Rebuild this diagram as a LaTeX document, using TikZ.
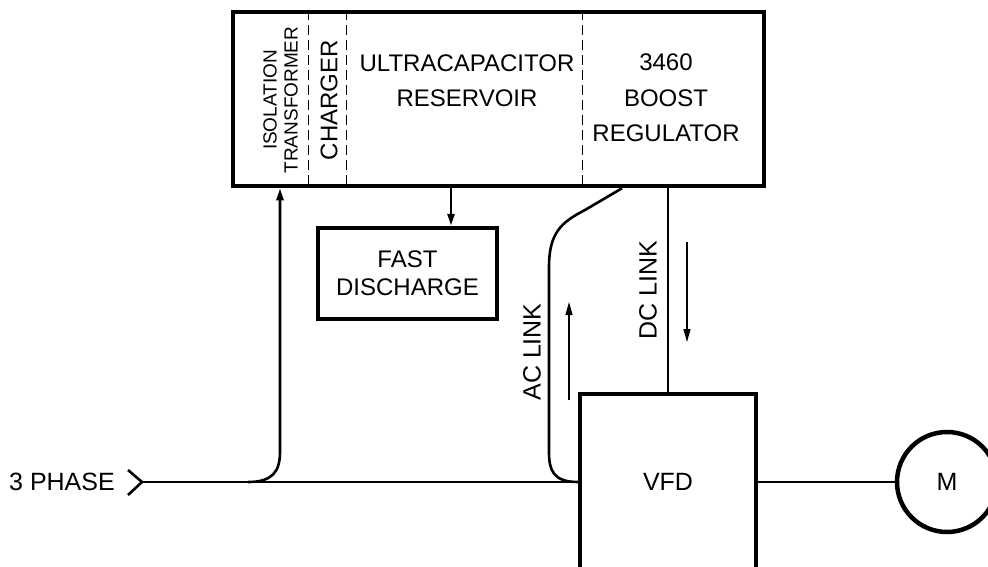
\documentclass[tikz,border=0pt]{standalone}
\usepackage{fontspec}
\setmainfont{Liberation Sans}
\usetikzlibrary{arrows.meta,positioning,calc}

\begin{document}
\begin{tikzpicture}[
    x=1pt, y=-1pt,
    blk/.style={draw=black, line width=4.5pt, inner sep=0pt, align=center,
                font=\fontsize{24}{28}\selectfont},
    lbl/.style={inner sep=0pt, align=center, font=\fontsize{24}{35.5}\selectfont},
    vlbl/.style={lbl, rotate=90},
    wire/.style={line width=2.6pt},
    arr/.style={wire, -{Triangle[length=12pt,width=7pt]}},
    flow/.style={line width=1.3pt, -{Triangle[length=13pt,width=7pt]}},
    divider/.style={line width=1pt, dash pattern=on 10pt off 5pt}
  ]
  \useasboundingbox (0,0) rectangle (988,567);

  % storage unit
  \node[blk, minimum width=531pt, minimum height=174pt] (store) at (498.5,99) {};
  \draw[divider] (308,0 |- store.north) -- (308,0 |- store.south);
  \draw[divider] (346,0 |- store.north) -- (346,0 |- store.south);
  \draw[divider] (582,0 |- store.north) -- (582,0 |- store.south);
  \node[vlbl, font=\fontsize{19}{21}\selectfont] (iso) at (280.5,100) {ISOLATION\\TRANSFORMER};
  \node[vlbl] (chg) at (329,100) {CHARGER};
  \node[lbl] (ucap) at (467,80.5) {ULTRACAPACITOR\\RESERVOIR};
  \node[lbl] (boost) at (666,98) {3460\\BOOST\\REGULATOR};

  \node[blk, minimum width=179pt, minimum height=91pt] (fast) at (407.5,273.5) {FAST\\DISCHARGE};
  \node[blk, minimum width=176pt, minimum height=176pt,
        font=\fontsize{25}{30}\selectfont] (vfd) at (668,482) {VFD};
  \node[draw, circle, line width=4.5pt, minimum size=100pt, inner sep=0pt,
        font=\fontsize{25}{30}\selectfont] (motor) at (947,482) {M};

  % supply
  \node[lbl, anchor=east, font=\fontsize{25}{30}\selectfont] (supply) at (115,482) {3 PHASE};
  \coordinate (feed) at (142,482);
  \coordinate (tap) at (248,482);
  \draw[wire] ($(feed)+(-14,-12)$) -- (feed) -- ($(feed)+(-14,13)$);
  \draw[wire] (feed) -- (vfd.west);
  \draw[arr] (tap) .. controls (272,482) and (280,472) .. (280,452) -- (280,0 |- store.south);
  \draw[arr] (451,0 |- store.south) -- (451,0 |- fast.north);

  % links
  \draw[wire] (vfd.west) .. controls (553,482) and (549,470) .. (549,452) -- (549,267)
    .. controls (549,232) and (562,222) .. (585,210) -- (622,0 |- store.south);
  \draw[wire] (vfd.north) -- (vfd.north |- store.south);
  \draw[wire] (vfd.east) -- (motor.west);

  \node[vlbl, font=\fontsize{25}{30}\selectfont] (ac) at (532,352) {AC LINK};
  \node[vlbl, font=\fontsize{25}{30}\selectfont] (dc) at (648,290) {DC LINK};
  \coordinate (acbot) at (569,400);
  \coordinate (actop) at (569,302);
  \coordinate (dctop) at (687,242);
  \coordinate (dcbot) at (687,342);
  \draw[flow] (acbot) -- (actop);
  \draw[flow] (dctop) -- (dcbot);
\end{tikzpicture}
\end{document}
